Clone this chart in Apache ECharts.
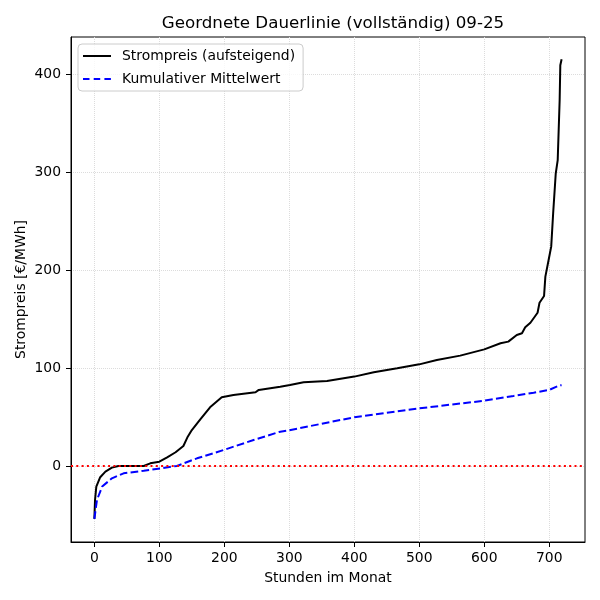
<!DOCTYPE html>
<html>
<head>
<meta charset="utf-8">
<script src="https://cdn.jsdelivr.net/npm/echarts@6/dist/echarts.min.js"></script>
<style>html,body{margin:0;padding:0;background:#fff}#c{width:600px;height:600px}</style>
</head>
<body>
<div id="c"></div>
<script>
const titleText = 'Geordnete Dauerlinie (vollständig) 09-25';
const seriesNames = ['Strompreis (aufsteigend)', 'Kumulativer Mittelwert'];
const xTicks = [0, 100, 200, 300, 400, 500, 600, 700];
const yTicks = [0, 100, 200, 300, 400];

const priceHours = [0, 1, 3, 9, 17, 27, 37, 76, 86, 100, 112, 125, 137, 143, 150, 163, 178, 196, 214, 248, 253, 286, 301, 322, 358, 400, 430, 466, 500, 527, 563, 600, 625, 637, 650, 658, 663, 671, 682, 685, 692, 694, 699, 703, 706, 710, 713, 716, 717, 719];
const priceValues = [-54, -35, -21, -11.5, -5.8, -1.7, 0, 0, 2.7, 4.4, 8.8, 14, 20.4, 29, 36.7, 47.6, 59.9, 70.1, 72.4, 75.2, 77.6, 80.9, 82.7, 85.4, 86.7, 91.2, 95.6, 99.7, 103.7, 108.2, 112.6, 119, 125.2, 126.9, 133.7, 135.4, 141.5, 146.2, 156.4, 166.6, 173.5, 193.2, 210.2, 223.8, 257.9, 298.7, 312.2, 373.5, 409, 415];

const meanHours = [0, 4, 12, 27, 45, 76, 102, 127, 158, 199, 245, 286, 300, 400, 500, 600, 645, 676, 700, 716, 719];
const meanValues = [-54, -34.7, -21, -12.6, -7.5, -4.8, -2.4, 0, 7.8, 16.3, 26.5, 35, 36.5, 49.7, 58.8, 66.6, 71.4, 74.8, 77.6, 82.3, 82.5];

const zeroLine = 0;

const priceData = priceHours.map((h, i) => [h, priceValues[i]]);
const meanData = meanHours.map((h, i) => [h, meanValues[i]]);

const solidIcon = 'path://M0,0h28v2h-28z M33.99,0h0.01v0.01h-0.01z';
const dashedIcon = 'path://M0,0h6.5v2h-6.5z M10.7,0h6.5v2h-6.5z M21.4,0h6.5v2h-6.5z M33.99,0h0.01v0.01h-0.01z';

const font = 'DejaVu Sans';
const chart = echarts.init(document.getElementById('c'), null, {renderer: 'canvas'});
chart.setOption({
  animation: false,
  backgroundColor: '#fff',
  textStyle: {fontFamily: font},
  title: {
    text: titleText,
    left: 328, textAlign: 'center', top: 10,
    textStyle: {fontFamily: font, fontSize: 16.7, fontWeight: 'normal', color: '#000'}
  },
  legend: {
    orient: 'vertical', left: 78, top: 44,
    padding: [5, 8, 5, 5],
    itemGap: 9, itemWidth: 34, itemHeight: 2,
    borderColor: '#cccccc', borderWidth: 1, borderRadius: 4,
    backgroundColor: 'rgba(255,255,255,0.8)',
    textStyle: {fontFamily: font, fontSize: 13.9, color: '#000'},
    data: [
      {name: seriesNames[0], icon: solidIcon, itemStyle: {color: '#000'}},
      {name: seriesNames[1], icon: dashedIcon, itemStyle: {color: '#0000ff'}}
    ]
  },
  grid: {left: 71, right: 15, top: 37, bottom: 58, show: true, borderColor: '#000', borderWidth: 1, containLabel: false},
  xAxis: {
    type: 'value', min: -35.95, max: 755,
    name: 'Stunden im Monat', nameLocation: 'middle', nameGap: 29, nameMoveOverlap: false,
    nameTextStyle: {fontFamily: font, fontSize: 13.9, color: '#000'},
    axisLine: {show: true, onZero: false, lineStyle: {color: '#000', width: 1}},
    axisTick: {show: true, length: 5, customValues: xTicks, lineStyle: {color: '#000'}},
    axisLabel: {customValues: xTicks, margin: 9, fontFamily: font, fontSize: 13.9, color: '#000'},
    splitLine: {show: true, lineStyle: {color: '#dcdcdc', type: 'dotted', width: 1}}
  },
  yAxis: {
    type: 'value', min: -77.6, max: 437.8,
    name: 'Strompreis [€/MWh]', nameLocation: 'middle', nameGap: 43, nameRotate: 90, nameMoveOverlap: false,
    nameTextStyle: {fontFamily: font, fontSize: 13.9, color: '#000'},
    axisLine: {show: true, onZero: false, lineStyle: {color: '#000', width: 1}},
    axisTick: {show: true, length: 5, customValues: yTicks, lineStyle: {color: '#000'}},
    axisLabel: {customValues: yTicks, margin: 10, fontFamily: font, fontSize: 13.9, color: '#000'},
    splitLine: {show: true, lineStyle: {color: '#dcdcdc', type: 'dotted', width: 1}}
  },
  series: [
    {
      name: seriesNames[0], type: 'line', data: priceData,
      showSymbol: false, symbol: 'none', z: 3,
      lineStyle: {color: '#000', width: 2},
      itemStyle: {color: '#000'},
      markLine: {
        silent: true, symbol: ['none', 'none'], label: {show: false},
        lineStyle: {color: '#ff0000', type: [2, 3.3], width: 2},
        data: [{yAxis: zeroLine}]
      }
    },
    {
      name: seriesNames[1], type: 'line', data: meanData,
      showSymbol: false, symbol: 'none', z: 3,
      lineStyle: {color: '#0000ff', width: 2, type: [7.7, 3.3]},
      itemStyle: {color: '#0000ff'}
    }
  ]
});
</script>
</body>
</html>
